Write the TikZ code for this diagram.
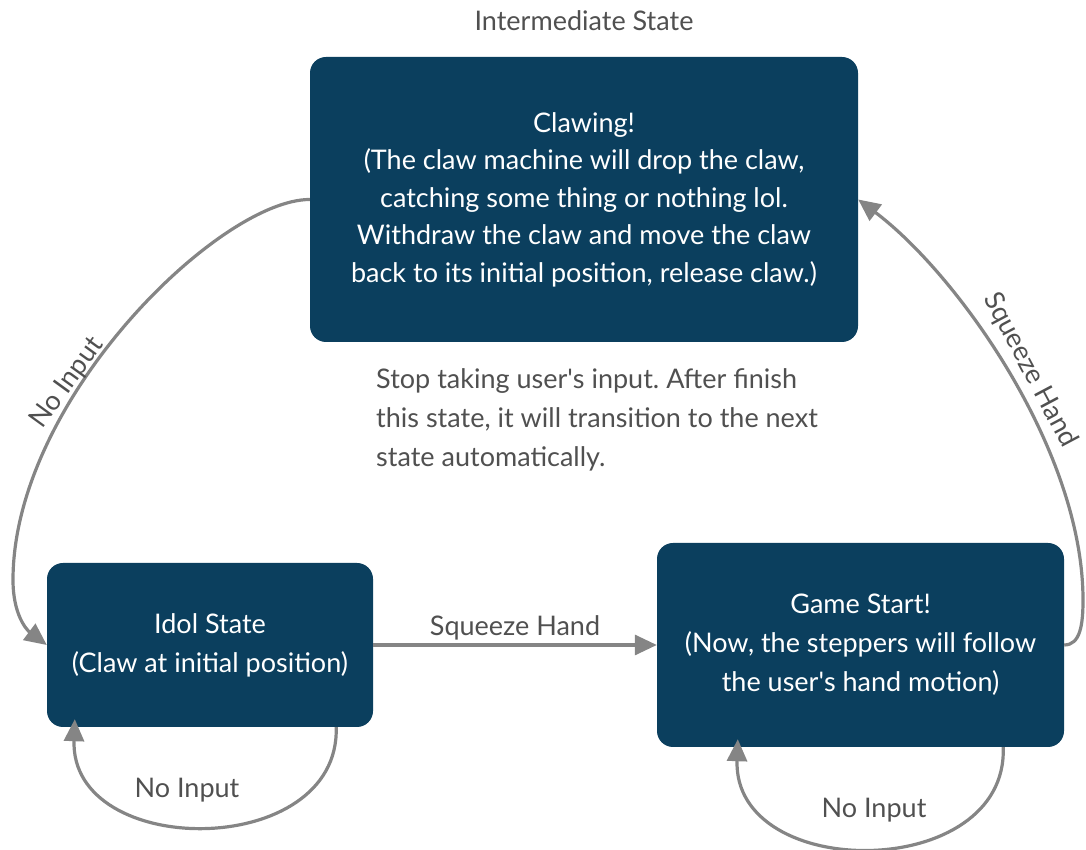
\documentclass[tikz,border=0pt]{standalone}
\usepackage{fontspec}
\setmainfont{Lato}
\usetikzlibrary{arrows.meta,positioning}
\definecolor{statebg}{HTML}{0B3F5E}
\definecolor{linegray}{HTML}{858585}
\definecolor{textgray}{HTML}{505050}
\frenchspacing

\begin{document}
\begin{tikzpicture}[x=1pt,y=1pt,
    state/.style={fill=statebg, rounded corners=16pt, text=white, align=center,
      inner sep=0pt, font=\fontsize{27}{39}\selectfont},
    trans/.style={draw=linegray, line width=3.2pt, -{Triangle[length=22pt,width=20pt]}},
    lbl/.style={text=textgray, font=\fontsize{27}{39}\selectfont}
  ]
  \useasboundingbox (0,0) rectangle (1086,850);

  \node[state, minimum width=548pt, minimum height=285pt,
    font=\fontsize{27}{37.5}\selectfont] (claw) at (584,650.5)
    {Clawing!\\(The claw machine will drop the claw,\\catching some thing or nothing lol.\\
     Withdraw the claw and move the claw\\back to its initial position, release claw.)};
  \node[state, minimum width=326pt, minimum height=164pt] (idol) at (210,205)
    {Idol State\\(Claw at initial position)};
  \node[state, minimum width=407pt, minimum height=204pt] (game) at (860.5,205)
    {Game Start!\\(Now, the steppers will follow\\the user\textquotesingle s hand motion)};

  \node[lbl, above=23pt of claw] (inter) {Intermediate State};
  \node[lbl, anchor=north west, align=left, inner sep=0pt] (note) at (376,482)
    {Stop taking user\textquotesingle s input. After finish\\this state, it will transition to the next\\state automatically.};

  \coordinate (lbend) at (13,270);
  \coordinate (rbend) at (1083,250);

  \draw[trans] (idol) -- (game) node[lbl, midway, above=0pt] (sq1) {Squeeze Hand};
  \draw[trans] (game.east) .. controls +(16,0) and +(0,-25) .. (rbend)
    .. controls +(0,150) and +(99,-74.5) .. (claw.east);
  \draw[trans] (claw.west) .. controls +(-90,0) and +(0,180) .. (lbend)
    .. controls +(0,-35) and +(-20,15) .. (idol.west);
  \draw[trans] ([xshift=-37pt]idol.south east) .. controls +(4,-133) and +(-5,-141)
    .. ([xshift=28pt,yshift=8pt]idol.south west);
  \draw[trans] ([xshift=-61pt]game.south east) .. controls +(5,-135) and +(-5,-144)
    .. ([xshift=81pt,yshift=8pt]game.south west);

  \node[lbl, rotate=54] (ni1) at (67,467) {No Input};
  \node[lbl, rotate=-62] (sq2) at (1030,480) {Squeeze Hand};
  \node[lbl] (ni2) at (187,60) {No Input};
  \node[lbl] (ni3) at (874,40) {No Input};
\end{tikzpicture}
\end{document}
